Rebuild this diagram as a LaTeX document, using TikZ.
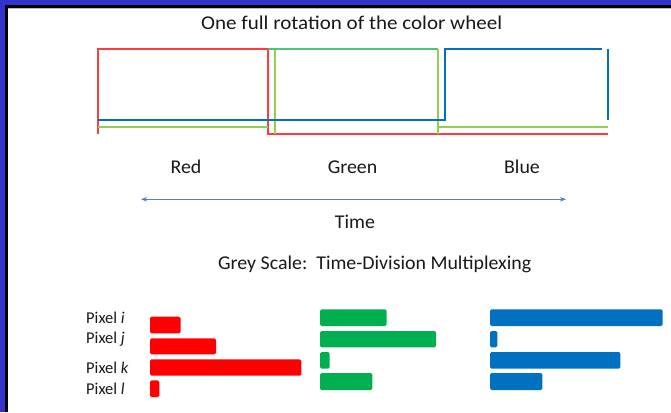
\documentclass[tikz,border=0pt]{standalone}
\usepackage{fontspec}
\setmainfont{Carlito}
\newfontfamily\titlefont[FakeStretch=1.08]{Carlito}
\newfontfamily\labelfont[FakeStretch=1.02]{Carlito}
\usetikzlibrary{arrows.meta}

\definecolor{slideblue}{HTML}{3333CC}
\definecolor{wred}{HTML}{FF3B3B}
\definecolor{wlime}{HTML}{92D050}
\definecolor{wgreen}{HTML}{4CC478}
\definecolor{wblue}{HTML}{0070C0}
\definecolor{barred}{HTML}{FF0000}
\definecolor{bargreen}{HTML}{00B050}
\definecolor{barblue}{HTML}{0070C0}
\definecolor{timeblue}{HTML}{4F81BD}

\begin{document}
\begin{tikzpicture}[x=1pt,y=-1pt,
  lbl/.style={inner sep=0pt, font=\labelfont\fontsize{19.5}{22}\selectfont, text=black!90},
  pixlbl/.style={inner sep=0pt, anchor=base west, font=\fontsize{16.5}{19}\selectfont, text=black!90},
  signal/.style={line width=1.1pt},
  barshape/.style={rounded corners=1.5pt},
  timeline/.style={timeblue, line width=0.9pt}]

\useasboundingbox (0,0) rectangle (671,412);
\fill[white] (0,0) rectangle (671,412);

% slide frame
\fill[slideblue] (0,0) rectangle (671,5.5);
\fill[slideblue] (0,0) rectangle (5,412);
\fill[black] (5,5.5) rectangle (671,8);
\fill[black] (5,5.5) rectangle (7.5,412);
\draw[gray!55, line width=0.4pt] (7.5,8.6) -- (671,8.6);

% title
\node[lbl, anchor=base, font=\titlefont\fontsize{19.5}{22}\selectfont] (title) at (351.7,29.5) {One full rotation of the color wheel};

% colour wheel segments: red, green, blue waveforms
\draw[signal, wred] (98,134) -- (98,49) -- (268,49) -- (268,134) -- (608,134);
\draw[signal, wlime] (98,127) -- (268,127);
\draw[signal, wlime] (275,134) -- (275,49);
\draw[signal, wgreen] (268,49) -- (438,49);
\draw[signal, wlime] (438,49) -- (438,134);
\draw[signal, wlime] (438,127) -- (608,127);
\draw[signal, wblue] (98,120) -- (445,120) -- (445,49) -- (602,49);
\draw[signal, wblue] (608,49) -- (608,120);

% segment labels
\node[lbl, anchor=base] (red) at (186,173.3) {Red};
\node[lbl, anchor=base] (green) at (352.5,173.3) {Green};
\node[lbl, anchor=base] (blue) at (522,173.3) {Blue};

% time axis
\coordinate (tstart) at (141,199.3);
\coordinate (tend) at (566,199.3);
\draw[timeline, {Stealth[length=6pt,width=4.5pt]}-{Stealth[length=6pt,width=4.5pt]}] (tstart) -- (tend);
\node[lbl, anchor=base] (time) at (355,228.3) {Time};

\node[lbl, anchor=base] (grey) at (374.7,269) {Grey Scale:\ \ Time-Division Multiplexing};

% pixel labels
\node[pixlbl] (pi) at (86,323.3) {Pixel \textit{i}};
\node[pixlbl] (pj) at (86,343.3) {Pixel \textit{j}};
\node[pixlbl] (pk) at (86,373.3) {Pixel \textit{k}};
\node[pixlbl] (pl) at (86,394) {Pixel \textit{l}};

% red sub-frame bars
\fill[barred, barshape] (150,316.7) rectangle (180.7,333.3);
\fill[barred, barshape] (150,338.3) rectangle (216,354.3);
\fill[barred, barshape] (150,359.3) rectangle (301.3,375.7);
\fill[barred, barshape] (150,380.3) rectangle (159.3,397);

% green sub-frame bars
\fill[bargreen, barshape] (320,309.3) rectangle (386.7,326);
\fill[bargreen, barshape] (320,331) rectangle (436,347.3);
\fill[bargreen, barshape] (320,352) rectangle (329.7,368.7);
\fill[bargreen, barshape] (320,373) rectangle (372.3,390);

% blue sub-frame bars
\fill[barblue, barshape] (490,309.3) rectangle (662.7,326);
\fill[barblue, barshape] (490,331) rectangle (497.3,347.3);
\fill[barblue, barshape] (490,352) rectangle (620.3,368.7);
\fill[barblue, barshape] (490,373) rectangle (542.3,390);
\end{tikzpicture}
\end{document}
